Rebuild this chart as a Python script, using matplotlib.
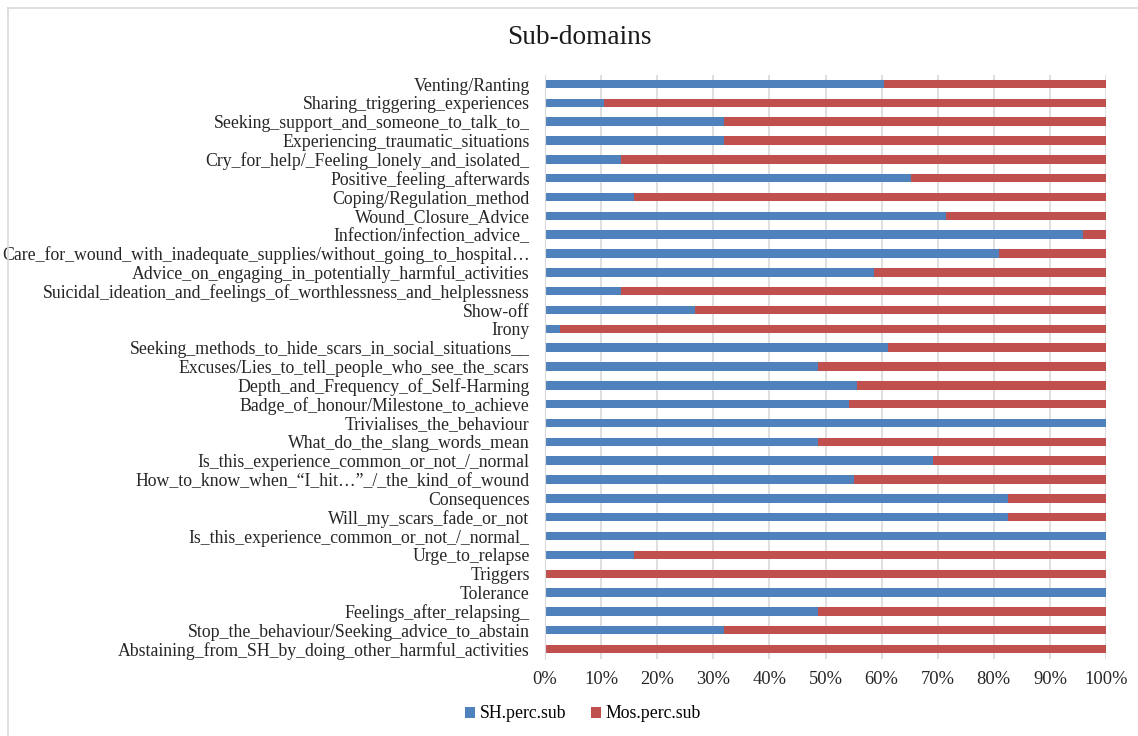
import matplotlib
matplotlib.use("Agg")
import matplotlib.pyplot as plt
from matplotlib.lines import Line2D
import numpy as np

categories = [
    "Venting/Ranting",
    "Sharing_triggering_experiences",
    "Seeking_support_and_someone_to_talk_to_",
    "Experiencing_traumatic_situations",
    "Cry_for_help/_Feeling_lonely_and_isolated_",
    "Positive_feeling_afterwards",
    "Coping/Regulation_method",
    "Wound_Closure_Advice",
    "Infection/infection_advice_",
    "Care_for_wound_with_inadequate_supplies/without_going_to_hospital\u2026",
    "Advice_on_engaging_in_potentially_harmful_activities",
    "Suicidal_ideation_and_feelings_of_worthlessness_and_helplessness",
    "Show-off",
    "Irony",
    "Seeking_methods_to_hide_scars_in_social_situations__",
    "Excuses/Lies_to_tell_people_who_see_the_scars",
    "Depth_and_Frequency_of_Self-Harming",
    "Badge_of_honour/Milestone_to_achieve",
    "Trivialises_the_behaviour",
    "What_do_the_slang_words_mean",
    "Is_this_experience_common_or_not_/_normal",
    "How_to_know_when_\u201cI_hit\u2026\u201d_/_the_kind_of_wound",
    "Consequences",
    "Will_my_scars_fade_or_not",
    "Is_this_experience_common_or_not_/_normal_",
    "Urge_to_relapse",
    "Triggers",
    "Tolerance",
    "Feelings_after_relapsing_",
    "Stop_the_behaviour/Seeking_advice_to_abstain",
    "Abstaining_from_SH_by_doing_other_harmful_activities",
]

sh_perc = [60.5, 10.6, 31.9, 31.9, 13.5, 65.3, 15.8, 71.5, 95.9, 81.0,
           58.7, 13.5, 26.8, 2.7, 61.1, 48.6, 55.7, 54.1, 100.0, 48.6,
           69.1, 55.1, 82.5, 82.5, 100.0, 15.8, 0.0, 100.0, 48.6, 31.9, 0.0]
mos_perc = [100 - v for v in sh_perc]

series_names = ["SH.perc.sub", "Mos.perc.sub"]
x_ticks = [0, 10, 20, 30, 40, 50, 60, 70, 80, 90, 100]
x_ticklabels = [f"{t}%" for t in x_ticks]

plt.rcParams['font.family'] = ['Liberation Serif', 'DejaVu Serif']

fig = plt.figure(figsize=(11.38, 7.36), dpi=100)
W, H = 1138, 736
ax = fig.add_axes([545 / W, 1 - 658.5 / H, (1106 - 545) / W, (658.5 - 74.6) / H])

y = np.arange(len(categories))
blue = "#4F81BD"
red = "#C0504D"
ax.barh(y, sh_perc, height=0.45, color=blue, label=series_names[0], zorder=3)
ax.barh(y, mos_perc, left=sh_perc, height=0.45, color=red, label=series_names[1], zorder=3)

ax.set_ylim(len(categories) - 0.5, -0.5)
ax.set_xlim(0, 100)
ax.set_yticks(y)
ax.set_yticklabels(categories, fontsize=12.8)
ax.set_xticks(x_ticks)
ax.set_xticklabels(x_ticklabels, fontsize=13.3)
ax.tick_params(axis='both', length=0, colors='#262626')
ax.tick_params(axis='y', pad=11)
ax.tick_params(axis='x', pad=9)
ax.grid(axis='x', color='#D9D9D9', linewidth=1.2, zorder=0)
for s in ['top', 'right', 'bottom']:
    ax.spines[s].set_visible(False)
ax.spines['left'].set_color('#D9D9D9')
ax.spines['left'].set_zorder(4)

fig.text(579 / W, 1 - 38 / H, "Sub-domains", ha='center', va='center', fontsize=19.7, color='#1a1a1a')

leg = fig.legend(loc='center', bbox_to_anchor=(583 / W, 1 - 714 / H), ncol=2, frameon=False,
                 fontsize=12.8, handlelength=0.55, handleheight=0.55, handletextpad=0.25, columnspacing=1.4)

# Figure border (left and top)
fig.add_artist(Line2D([8 / W, 8 / W], [0, 1 - 8 / H], color='#D9D9D9', linewidth=1.2, transform=fig.transFigure))
fig.add_artist(Line2D([8 / W, 1], [1 - 8 / H, 1 - 8 / H], color='#D9D9D9', linewidth=1.2, transform=fig.transFigure))

fig.savefig("out.png", dpi=100)
